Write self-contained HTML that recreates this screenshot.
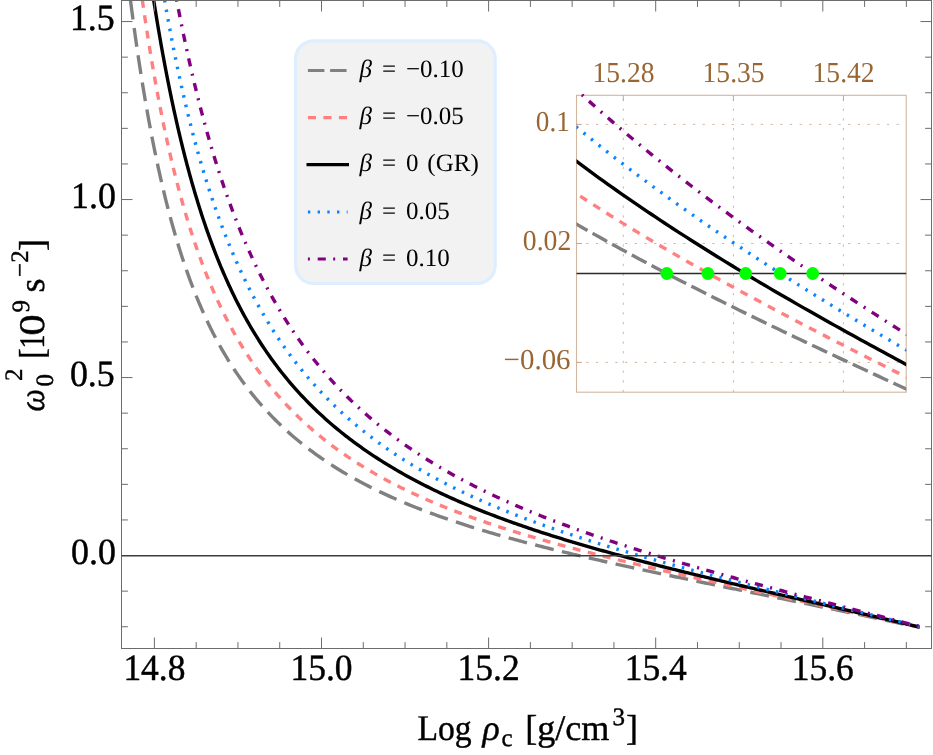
<!DOCTYPE html>
<html><head><meta charset="utf-8"><title>plot</title>
<style>html,body{margin:0;padding:0;background:#fff;}svg{display:block;will-change:transform;}text{font-family:"Liberation Serif",serif;text-rendering:geometricPrecision;}</style></head>
<body>
<svg width="933" height="755" viewBox="0 0 933 755">
<rect width="933" height="755" fill="#fff"/>
<defs>
<clipPath id="cm"><rect x="121.5" y="0.0" width="810.0" height="648.5"/></clipPath>
<clipPath id="ci"><rect x="576.5" y="93.6" width="329.7" height="298.6"/></clipPath>
</defs>
<g clip-path="url(#cm)" fill="none" stroke-width="3.40">
<path d="M125.16 -43.61 L125.43 -41.26 L125.70 -38.91 L125.97 -36.56 L126.25 -34.21 L126.53 -31.86 L126.80 -29.51 L127.08 -27.16 L127.37 -24.81 L127.65 -22.46 L127.93 -20.11 L128.22 -17.76 L128.51 -15.41 L128.80 -13.06 L129.09 -10.71 L129.38 -8.36 L129.68 -6.01 L129.97 -3.66 L130.27 -1.31 L130.57 1.03 L130.87 3.38 L131.18 5.73 L131.48 8.08 L131.79 10.42 L132.10 12.77 L132.41 15.12 L132.72 17.46 L133.04 19.81 L133.36 22.15 L133.68 24.50 L134.00 26.84 L134.32 29.19 L134.65 31.53 L134.97 33.88 L135.30 36.22 L135.63 38.57 L135.97 40.91 L136.30 43.25 L136.64 45.60 L136.98 47.94 L137.33 50.28 L137.67 52.62 L138.02 54.96 L138.37 57.30 L138.72 59.65 L139.07 61.99 L139.43 64.33 L139.79 66.67 L140.15 69.00 L140.52 71.34 L140.88 73.68 L141.25 76.02 L141.63 78.36 L142.00 80.70 L142.38 83.03 L142.76 85.37 L143.14 87.70 L143.53 90.04 L143.92 92.37 L144.31 94.71 L144.70 97.04 L145.10 99.38 L145.50 101.71 L145.90 104.04 L146.31 106.37 L146.72 108.71 L147.13 111.04 L147.55 113.37 L147.96 115.70 L148.39 118.03 L148.81 120.35 L149.24 122.68 L149.67 125.01 L150.11 127.34 L150.55 129.66 L150.99 131.99 L151.43 134.31 L151.88 136.64 L152.34 138.96 L152.79 141.28 L153.25 143.60 L153.72 145.93 L154.19 148.25 L154.66 150.57 L155.13 152.88 L155.61 155.20 L156.10 157.52 L156.59 159.83 L157.08 162.15 L157.58 164.46 L158.08 166.78 L158.58 169.09 L159.09 171.40 L159.61 173.71 L160.12 176.02 L160.65 178.33 L161.18 180.64 L161.71 182.94 L162.25 185.25 L162.79 187.55 L163.34 189.86 L163.89 192.16 L164.45 194.46 L165.01 196.76 L165.58 199.06 L166.15 201.35 L166.73 203.65 L167.31 205.94 L167.90 208.23 L168.50 210.53 L169.10 212.82 L169.70 215.10 L170.32 217.39 L170.94 219.67 L171.56 221.96 L172.19 224.24 L172.83 226.52 L173.47 228.80 L174.12 231.07 L174.78 233.35 L175.44 235.62 L176.11 237.89 L176.79 240.16 L177.47 242.42 L178.16 244.69 L178.86 246.95 L179.56 249.21 L180.28 251.47 L181.00 253.72 L181.72 255.98 L182.46 258.23 L183.20 260.47 L183.95 262.72 L184.71 264.96 L185.48 267.20 L186.25 269.44 L187.03 271.67 L187.83 273.90 L188.63 276.13 L189.44 278.35 L190.25 280.57 L191.08 282.79 L191.92 285.01 L192.76 287.22 L193.62 289.43 L194.48 291.63 L195.35 293.83 L196.24 296.03 L197.13 298.22 L198.03 300.41 L198.95 302.59 L199.87 304.77 L200.80 306.94 L201.75 309.11 L202.70 311.28 L203.67 313.44 L204.64 315.60 L205.63 317.75 L206.63 319.90 L207.64 322.04 L208.66 324.17 L209.69 326.30 L210.74 328.43 L211.80 330.54 L212.86 332.66 L213.94 334.76 L215.04 336.86 L216.14 338.96 L217.26 341.04 L218.39 343.12 L219.53 345.20 L220.68 347.26 L221.85 349.32 L223.03 351.38 L224.22 353.42 L225.43 355.46 L226.65 357.49 L227.88 359.51 L229.12 361.52 L230.38 363.53 L231.65 365.52 L232.94 367.51 L234.24 369.49 L235.55 371.46 L236.88 373.42 L238.22 375.37 L239.57 377.31 L240.94 379.25 L242.32 381.17 L243.71 383.08 L245.12 384.98 L246.54 386.88 L247.98 388.76 L249.42 390.63 L250.89 392.49 L252.36 394.34 L253.85 396.18 L255.36 398.01 L256.88 399.83 L258.41 401.63 L259.95 403.42 L261.51 405.21 L263.08 406.98 L264.66 408.74 L266.26 410.48 L267.87 412.22 L269.49 413.94 L271.13 415.65 L272.78 417.35 L274.44 419.03 L276.12 420.71 L277.80 422.37 L279.50 424.02 L281.21 425.65 L282.94 427.27 L284.67 428.88 L286.42 430.48 L288.18 432.07 L289.95 433.64 L291.73 435.19 L293.52 436.74 L295.33 438.27 L297.14 439.79 L298.97 441.30 L300.81 442.79 L302.65 444.27 L304.51 445.74 L306.38 447.19 L308.26 448.63 L310.14 450.06 L312.04 451.48 L313.95 452.88 L315.86 454.27 L317.79 455.65 L319.72 457.01 L321.66 458.36 L323.62 459.70 L325.58 461.03 L327.55 462.34 L329.52 463.65 L331.51 464.94 L333.50 466.21 L335.50 467.48 L337.51 468.73 L339.53 469.97 L341.55 471.20 L343.58 472.42 L345.62 473.62 L347.66 474.81 L349.71 476.00 L351.77 477.17 L353.83 478.33 L355.90 479.47 L357.98 480.61 L360.06 481.73 L362.15 482.85 L364.25 483.95 L366.35 485.04 L368.45 486.13 L370.56 487.20 L372.68 488.26 L374.80 489.31 L376.93 490.35 L379.06 491.38 L381.19 492.40 L383.33 493.41 L385.48 494.41 L387.63 495.40 L389.78 496.38 L391.94 497.36 L394.10 498.32 L396.27 499.27 L398.44 500.22 L400.61 501.15 L402.79 502.08 L404.97 503.00 L407.16 503.91 L409.35 504.81 L411.54 505.70 L413.74 506.58 L415.94 507.46 L418.14 508.33 L420.34 509.19 L422.55 510.04 L424.76 510.89 L426.98 511.72 L429.19 512.55 L431.41 513.38 L433.63 514.19 L435.86 515.00 L438.09 515.80 L440.32 516.60 L442.55 517.38 L444.78 518.16 L447.02 518.94 L449.26 519.71 L451.50 520.47 L453.74 521.22 L455.99 521.97 L458.24 522.72 L460.49 523.45 L462.74 524.18 L464.99 524.91 L467.25 525.63 L469.50 526.34 L471.76 527.05 L474.02 527.75 L476.28 528.45 L478.55 529.15 L480.81 529.83 L483.08 530.52 L485.35 531.19 L487.62 531.87 L489.89 532.53 L492.16 533.20 L494.43 533.86 L496.71 534.51 L498.98 535.16 L501.26 535.81 L503.54 536.45 L505.82 537.09 L508.10 537.72 L510.38 538.35 L512.66 538.97 L514.95 539.59 L517.23 540.21 L519.52 540.83 L521.81 541.44 L524.09 542.04 L526.38 542.65 L528.67 543.24 L530.96 543.84 L533.26 544.43 L535.55 545.02 L537.84 545.61 L540.14 546.19 L542.43 546.77 L544.73 547.35 L547.02 547.93 L549.32 548.50 L551.62 549.07 L553.92 549.63 L556.21 550.20 L558.51 550.76 L560.81 551.32 L563.12 551.87 L565.42 552.42 L567.72 552.97 L570.02 553.52 L572.32 554.07 L574.63 554.61 L576.93 555.16 L579.24 555.69 L581.54 556.23 L583.85 556.77 L586.15 557.30 L588.46 557.83 L590.77 558.36 L593.08 558.89 L595.38 559.42 L597.69 559.94 L600.00 560.46 L602.31 560.98 L604.62 561.50 L606.93 562.02 L609.24 562.54 L611.55 563.05 L613.86 563.56 L616.17 564.07 L618.48 564.58 L620.80 565.09 L623.11 565.60 L625.42 566.11 L627.73 566.61 L630.05 567.11 L632.36 567.62 L634.67 568.12 L636.99 568.62 L639.30 569.12 L641.61 569.61 L643.93 570.11 L646.24 570.61 L648.56 571.10 L650.87 571.59 L653.19 572.09 L655.50 572.58 L657.82 573.07 L660.13 573.56 L662.45 574.05 L664.77 574.54 L667.08 575.03 L669.40 575.51 L671.72 576.00 L674.03 576.49 L676.35 576.97 L678.67 577.46 L680.98 577.94 L683.30 578.42 L685.62 578.90 L687.94 579.39 L690.25 579.87 L692.57 580.35 L694.89 580.83 L697.21 581.31 L699.52 581.79 L701.84 582.27 L704.16 582.75 L706.48 583.23 L708.80 583.71 L711.12 584.18 L713.43 584.66 L715.75 585.14 L718.07 585.61 L720.39 586.09 L722.71 586.57 L725.03 587.04 L727.35 587.52 L729.66 588.00 L731.98 588.47 L734.30 588.95 L736.62 589.42 L738.94 589.90 L741.26 590.37 L743.58 590.85 L745.90 591.32 L748.22 591.80 L750.53 592.27 L752.85 592.75 L755.17 593.22 L757.49 593.70 L759.81 594.17 L762.13 594.64 L764.45 595.12 L766.77 595.59 L769.09 596.07 L771.41 596.54 L773.72 597.02 L776.04 597.49 L778.36 597.97 L780.68 598.44 L783.00 598.92 L785.32 599.39 L787.64 599.87 L789.96 600.34 L792.28 600.82 L794.59 601.29 L796.91 601.77 L799.23 602.25 L801.55 602.72 L803.87 603.20 L806.19 603.68 L808.51 604.15 L810.83 604.63 L813.14 605.11 L815.46 605.58 L817.78 606.06 L820.10 606.54 L822.42 607.02 L824.74 607.50 L827.05 607.98 L829.37 608.45 L831.69 608.93 L834.01 609.41 L836.33 609.89 L838.64 610.37 L840.96 610.85 L843.28 611.33 L845.60 611.82 L847.91 612.30 L850.23 612.78 L852.55 613.26 L854.87 613.74 L857.18 614.23 L859.50 614.71 L861.82 615.19 L864.14 615.68 L866.45 616.16 L868.77 616.65 L871.09 617.13 L873.40 617.62 L875.72 618.10 L878.04 618.59 L880.35 619.08 L882.67 619.57 L884.98 620.05 L887.30 620.54 L889.62 621.03 L891.93 621.52 L894.25 622.01 L896.57 622.50 L898.88 622.99 L901.20 623.48 L903.51 623.97 L905.83 624.46 L908.14 624.95 L910.46 625.45 L912.77 625.94 L915.09 626.43 L917.40 626.93 L919.72 627.42" stroke="#808080" stroke-dasharray="19 8.53" stroke-dashoffset="-17.08"/>
<path d="M125.16 -144.21 L125.41 -141.69 L125.67 -139.18 L125.93 -136.66 L126.19 -134.15 L126.45 -131.63 L126.71 -129.12 L126.97 -126.60 L127.24 -124.09 L127.50 -121.57 L127.77 -119.06 L128.04 -116.54 L128.31 -114.03 L128.58 -111.51 L128.85 -109.00 L129.13 -106.48 L129.40 -103.97 L129.68 -101.46 L129.96 -98.94 L130.24 -96.43 L130.52 -93.92 L130.81 -91.40 L131.09 -88.89 L131.38 -86.38 L131.67 -83.86 L131.96 -81.35 L132.25 -78.84 L132.54 -76.33 L132.84 -73.82 L133.13 -71.31 L133.43 -68.79 L133.73 -66.28 L134.03 -63.77 L134.34 -61.26 L134.64 -58.75 L134.95 -56.24 L135.26 -53.73 L135.57 -51.22 L135.88 -48.71 L136.20 -46.20 L136.51 -43.69 L136.83 -41.18 L137.15 -38.67 L137.47 -36.17 L137.80 -33.66 L138.13 -31.15 L138.45 -28.64 L138.78 -26.13 L139.12 -23.63 L139.45 -21.12 L139.79 -18.61 L140.13 -16.11 L140.47 -13.60 L140.81 -11.10 L141.15 -8.59 L141.50 -6.09 L141.85 -3.58 L142.20 -1.08 L142.56 1.43 L142.91 3.93 L143.27 6.43 L143.63 8.94 L144.00 11.44 L144.36 13.94 L144.73 16.45 L145.10 18.95 L145.48 21.45 L145.85 23.95 L146.23 26.45 L146.61 28.95 L147.00 31.45 L147.38 33.95 L147.77 36.45 L148.16 38.95 L148.56 41.44 L148.96 43.94 L149.36 46.44 L149.76 48.94 L150.17 51.43 L150.58 53.93 L150.99 56.42 L151.40 58.92 L151.82 61.41 L152.24 63.91 L152.67 66.40 L153.10 68.89 L153.53 71.38 L153.96 73.87 L154.40 76.37 L154.84 78.86 L155.28 81.35 L155.73 83.83 L156.18 86.32 L156.64 88.81 L157.09 91.30 L157.56 93.78 L158.02 96.27 L158.49 98.76 L158.96 101.24 L159.44 103.72 L159.92 106.21 L160.40 108.69 L160.89 111.17 L161.38 113.65 L161.88 116.13 L162.38 118.61 L162.89 121.09 L163.40 123.57 L163.91 126.04 L164.43 128.52 L164.95 130.99 L165.47 133.47 L166.01 135.94 L166.54 138.41 L167.08 140.88 L167.63 143.35 L168.18 145.82 L168.73 148.29 L169.29 150.75 L169.85 153.22 L170.42 155.68 L171.00 158.15 L171.58 160.61 L172.16 163.07 L172.75 165.53 L173.35 167.98 L173.95 170.44 L174.56 172.90 L175.17 175.35 L175.79 177.80 L176.41 180.25 L177.04 182.70 L177.68 185.15 L178.32 187.60 L178.97 190.04 L179.62 192.48 L180.29 194.92 L180.95 197.36 L181.63 199.80 L182.31 202.24 L183.00 204.67 L183.69 207.10 L184.39 209.53 L185.10 211.96 L185.81 214.39 L186.54 216.81 L187.27 219.23 L188.00 221.65 L188.75 224.07 L189.50 226.48 L190.26 228.89 L191.03 231.30 L191.80 233.71 L192.59 236.12 L193.38 238.52 L194.18 240.92 L194.99 243.31 L195.81 245.71 L196.63 248.10 L197.47 250.48 L198.31 252.87 L199.17 255.25 L200.03 257.63 L200.90 260.00 L201.78 262.37 L202.67 264.74 L203.57 267.10 L204.48 269.46 L205.40 271.82 L206.33 274.17 L207.27 276.52 L208.22 278.86 L209.18 281.20 L210.15 283.53 L211.13 285.86 L212.13 288.19 L213.13 290.51 L214.15 292.83 L215.17 295.14 L216.21 297.45 L217.26 299.75 L218.32 302.04 L219.39 304.33 L220.48 306.62 L221.57 308.90 L222.68 311.17 L223.80 313.44 L224.93 315.70 L226.08 317.95 L227.24 320.20 L228.41 322.44 L229.59 324.68 L230.79 326.91 L232.00 329.13 L233.22 331.34 L234.46 333.55 L235.71 335.75 L236.97 337.94 L238.24 340.12 L239.53 342.30 L240.84 344.46 L242.16 346.62 L243.49 348.77 L244.83 350.92 L246.19 353.05 L247.56 355.17 L248.95 357.29 L250.35 359.39 L251.77 361.49 L253.20 363.58 L254.64 365.65 L256.10 367.72 L257.57 369.78 L259.06 371.82 L260.56 373.86 L262.07 375.88 L263.60 377.90 L265.14 379.90 L266.70 381.89 L268.27 383.87 L269.86 385.84 L271.46 387.80 L273.08 389.75 L274.70 391.68 L276.35 393.60 L278.00 395.52 L279.68 397.41 L281.36 399.30 L283.06 401.17 L284.77 403.04 L286.50 404.88 L288.23 406.72 L289.99 408.54 L291.75 410.35 L293.53 412.15 L295.32 413.94 L297.13 415.71 L298.95 417.47 L300.78 419.21 L302.62 420.94 L304.48 422.66 L306.35 424.36 L308.23 426.06 L310.12 427.73 L312.02 429.40 L313.94 431.05 L315.87 432.69 L317.81 434.31 L319.76 435.92 L321.72 437.52 L323.69 439.10 L325.67 440.67 L327.67 442.22 L329.67 443.77 L331.69 445.29 L333.71 446.81 L335.75 448.31 L337.79 449.80 L339.85 451.27 L341.91 452.74 L343.98 454.18 L346.07 455.62 L348.16 457.04 L350.26 458.45 L352.37 459.84 L354.48 461.23 L356.61 462.60 L358.74 463.95 L360.89 465.30 L363.04 466.63 L365.19 467.95 L367.36 469.25 L369.53 470.55 L371.71 471.83 L373.90 473.10 L376.09 474.36 L378.30 475.60 L380.50 476.84 L382.72 478.06 L384.94 479.27 L387.17 480.47 L389.40 481.65 L391.64 482.83 L393.88 483.99 L396.13 485.15 L398.39 486.29 L400.65 487.42 L402.92 488.54 L405.19 489.65 L407.47 490.75 L409.75 491.84 L412.04 492.92 L414.33 493.99 L416.63 495.05 L418.93 496.10 L421.23 497.14 L423.54 498.17 L425.86 499.19 L428.18 500.20 L430.50 501.20 L432.82 502.19 L435.15 503.17 L437.49 504.15 L439.83 505.11 L442.17 506.07 L444.51 507.02 L446.86 507.96 L449.21 508.89 L451.56 509.82 L453.92 510.73 L456.28 511.64 L458.65 512.54 L461.01 513.43 L463.38 514.32 L465.75 515.20 L468.13 516.07 L470.50 516.93 L472.88 517.79 L475.27 518.64 L477.65 519.48 L480.04 520.31 L482.43 521.14 L484.82 521.96 L487.21 522.78 L489.61 523.59 L492.01 524.39 L494.41 525.19 L496.81 525.98 L499.21 526.77 L501.62 527.55 L504.03 528.32 L506.43 529.09 L508.85 529.86 L511.26 530.61 L513.67 531.37 L516.09 532.11 L518.51 532.86 L520.93 533.59 L523.35 534.33 L525.77 535.05 L528.19 535.78 L530.62 536.50 L533.04 537.21 L535.47 537.92 L537.90 538.62 L540.33 539.33 L542.76 540.02 L545.19 540.72 L547.63 541.40 L550.06 542.09 L552.50 542.77 L554.93 543.45 L557.37 544.12 L559.81 544.79 L562.25 545.46 L564.69 546.12 L567.13 546.78 L569.57 547.43 L572.02 548.09 L574.46 548.73 L576.91 549.38 L579.35 550.02 L581.80 550.66 L584.25 551.30 L586.69 551.94 L589.14 552.57 L591.59 553.20 L594.04 553.82 L596.49 554.45 L598.95 555.07 L601.40 555.68 L603.85 556.30 L606.31 556.91 L608.76 557.52 L611.21 558.13 L613.67 558.74 L616.13 559.34 L618.58 559.95 L621.04 560.55 L623.50 561.14 L625.95 561.74 L628.41 562.33 L630.87 562.93 L633.33 563.52 L635.79 564.10 L638.25 564.69 L640.71 565.28 L643.17 565.86 L645.63 566.44 L648.09 567.02 L650.56 567.60 L653.02 568.18 L655.48 568.75 L657.94 569.33 L660.41 569.90 L662.87 570.47 L665.33 571.04 L667.80 571.61 L670.26 572.17 L672.73 572.74 L675.19 573.31 L677.66 573.87 L680.12 574.43 L682.59 574.99 L685.06 575.55 L687.52 576.11 L689.99 576.67 L692.46 577.23 L694.92 577.79 L697.39 578.34 L699.86 578.90 L702.33 579.45 L704.79 580.00 L707.26 580.56 L709.73 581.11 L712.20 581.66 L714.67 582.21 L717.14 582.76 L719.60 583.31 L722.07 583.85 L724.54 584.40 L727.01 584.95 L729.48 585.49 L731.95 586.04 L734.42 586.58 L736.89 587.13 L739.36 587.67 L741.83 588.22 L744.30 588.76 L746.77 589.30 L749.24 589.85 L751.71 590.39 L754.18 590.93 L756.65 591.47 L759.12 592.01 L761.59 592.55 L764.06 593.09 L766.53 593.63 L769.00 594.17 L771.47 594.71 L773.95 595.25 L776.42 595.79 L778.89 596.33 L781.36 596.87 L783.83 597.41 L786.30 597.94 L788.77 598.48 L791.24 599.02 L793.71 599.56 L796.19 600.10 L798.66 600.63 L801.13 601.17 L803.60 601.71 L806.07 602.25 L808.54 602.79 L811.01 603.32 L813.48 603.86 L815.96 604.40 L818.43 604.94 L820.90 605.47 L823.37 606.01 L825.84 606.55 L828.31 607.09 L830.78 607.62 L833.25 608.16 L835.72 608.70 L838.20 609.24 L840.67 609.78 L843.14 610.32 L845.61 610.85 L848.08 611.39 L850.55 611.93 L853.02 612.47 L855.49 613.01 L857.96 613.55 L860.43 614.09 L862.91 614.63 L865.38 615.17 L867.85 615.71 L870.32 616.25 L872.79 616.79 L875.26 617.33 L877.73 617.87 L880.20 618.41 L882.67 618.95 L885.14 619.49 L887.61 620.04 L890.08 620.58 L892.55 621.12 L895.02 621.66 L897.49 622.21 L899.96 622.75 L902.43 623.29 L904.90 623.84 L907.37 624.38 L909.84 624.93 L912.31 625.47 L914.78 626.02 L917.25 626.56 L919.72 627.11" stroke="#ff8080" stroke-dasharray="8 7.53" stroke-dashoffset="-5.40"/>
<path d="M125.16 -234.36 L125.41 -231.70 L125.67 -229.04 L125.93 -226.38 L126.18 -223.72 L126.44 -221.06 L126.70 -218.40 L126.97 -215.74 L127.23 -213.08 L127.49 -210.42 L127.76 -207.76 L128.03 -205.10 L128.30 -202.44 L128.57 -199.78 L128.84 -197.12 L129.11 -194.46 L129.38 -191.80 L129.66 -189.14 L129.93 -186.48 L130.21 -183.83 L130.49 -181.17 L130.77 -178.51 L131.05 -175.85 L131.34 -173.19 L131.62 -170.53 L131.91 -167.88 L132.19 -165.22 L132.48 -162.56 L132.77 -159.90 L133.06 -157.25 L133.36 -154.59 L133.65 -151.93 L133.95 -149.28 L134.25 -146.62 L134.55 -143.96 L134.85 -141.31 L135.15 -138.65 L135.45 -136.00 L135.76 -133.34 L136.07 -130.68 L136.38 -128.03 L136.69 -125.37 L137.00 -122.72 L137.31 -120.06 L137.63 -117.41 L137.95 -114.76 L138.27 -112.10 L138.59 -109.45 L138.91 -106.79 L139.24 -104.14 L139.56 -101.49 L139.89 -98.84 L140.22 -96.18 L140.55 -93.53 L140.89 -90.88 L141.22 -88.23 L141.56 -85.57 L141.90 -82.92 L142.24 -80.27 L142.59 -77.62 L142.93 -74.97 L143.28 -72.32 L143.63 -69.67 L143.98 -67.02 L144.34 -64.37 L144.69 -61.72 L145.05 -59.07 L145.41 -56.42 L145.78 -53.77 L146.14 -51.13 L146.51 -48.48 L146.88 -45.83 L147.25 -43.18 L147.62 -40.54 L148.00 -37.89 L148.38 -35.24 L148.76 -32.60 L149.14 -29.95 L149.53 -27.31 L149.92 -24.66 L150.31 -22.02 L150.70 -19.37 L151.10 -16.73 L151.50 -14.09 L151.90 -11.45 L152.30 -8.80 L152.71 -6.16 L153.12 -3.52 L153.53 -0.88 L153.95 1.76 L154.36 4.40 L154.79 7.04 L155.21 9.68 L155.64 12.32 L156.06 14.96 L156.50 17.60 L156.93 20.24 L157.37 22.87 L157.81 25.51 L158.26 28.14 L158.71 30.78 L159.16 33.41 L159.61 36.05 L160.07 38.68 L160.53 41.32 L160.99 43.95 L161.46 46.58 L161.93 49.21 L162.41 51.84 L162.89 54.47 L163.37 57.10 L163.85 59.73 L164.34 62.36 L164.83 64.99 L165.33 67.61 L165.83 70.24 L166.34 72.86 L166.84 75.49 L167.36 78.11 L167.87 80.73 L168.39 83.36 L168.92 85.98 L169.45 88.60 L169.98 91.22 L170.52 93.84 L171.06 96.45 L171.60 99.07 L172.16 101.69 L172.71 104.30 L173.27 106.91 L173.83 109.53 L174.40 112.14 L174.98 114.75 L175.56 117.36 L176.14 119.97 L176.73 122.58 L177.32 125.18 L177.92 127.79 L178.53 130.39 L179.14 132.99 L179.75 135.60 L180.37 138.20 L181.00 140.79 L181.63 143.39 L182.27 145.99 L182.91 148.58 L183.56 151.18 L184.21 153.77 L184.87 156.36 L185.54 158.95 L186.21 161.53 L186.89 164.12 L187.58 166.70 L188.27 169.29 L188.97 171.87 L189.67 174.44 L190.38 177.02 L191.10 179.60 L191.83 182.17 L192.56 184.74 L193.30 187.31 L194.05 189.87 L194.80 192.44 L195.56 195.00 L196.33 197.56 L197.11 200.12 L197.90 202.67 L198.69 205.23 L199.49 207.78 L200.30 210.33 L201.12 212.87 L201.94 215.41 L202.77 217.95 L203.62 220.49 L204.47 223.02 L205.33 225.55 L206.20 228.08 L207.08 230.61 L207.96 233.13 L208.86 235.65 L209.77 238.16 L210.68 240.67 L211.61 243.18 L212.54 245.69 L213.49 248.19 L214.44 250.68 L215.41 253.18 L216.38 255.66 L217.37 258.15 L218.37 260.63 L219.38 263.10 L220.40 265.58 L221.43 268.04 L222.47 270.50 L223.52 272.96 L224.59 275.41 L225.66 277.86 L226.75 280.30 L227.85 282.74 L228.96 285.17 L230.09 287.59 L231.22 290.01 L232.37 292.43 L233.53 294.83 L234.71 297.24 L235.89 299.63 L237.09 302.02 L238.31 304.40 L239.53 306.78 L240.77 309.14 L242.03 311.51 L243.30 313.86 L244.58 316.21 L245.87 318.54 L247.18 320.88 L248.50 323.20 L249.84 325.51 L251.19 327.82 L252.56 330.12 L253.94 332.41 L255.33 334.69 L256.74 336.96 L258.16 339.22 L259.60 341.48 L261.05 343.72 L262.52 345.95 L264.01 348.18 L265.50 350.39 L267.02 352.60 L268.54 354.79 L270.09 356.97 L271.64 359.14 L273.22 361.31 L274.80 363.46 L276.41 365.60 L278.02 367.72 L279.66 369.84 L281.31 371.95 L282.97 374.04 L284.65 376.12 L286.34 378.19 L288.05 380.25 L289.77 382.29 L291.50 384.32 L293.26 386.34 L295.02 388.35 L296.80 390.34 L298.60 392.32 L300.41 394.29 L302.23 396.25 L304.07 398.19 L305.92 400.12 L307.78 402.03 L309.66 403.93 L311.55 405.82 L313.46 407.69 L315.38 409.56 L317.31 411.40 L319.26 413.24 L321.22 415.05 L323.19 416.86 L325.17 418.65 L327.17 420.43 L329.18 422.19 L331.20 423.94 L333.23 425.68 L335.27 427.40 L337.33 429.11 L339.40 430.81 L341.48 432.49 L343.57 434.15 L345.67 435.81 L347.78 437.44 L349.90 439.07 L352.03 440.68 L354.18 442.28 L356.33 443.86 L358.49 445.43 L360.67 446.99 L362.85 448.54 L365.04 450.07 L367.24 451.58 L369.45 453.09 L371.67 454.58 L373.90 456.05 L376.13 457.52 L378.38 458.97 L380.63 460.41 L382.89 461.83 L385.16 463.25 L387.44 464.65 L389.72 466.03 L392.02 467.41 L394.32 468.77 L396.62 470.12 L398.94 471.46 L401.26 472.79 L403.58 474.11 L405.92 475.41 L408.26 476.70 L410.61 477.98 L412.96 479.25 L415.32 480.51 L417.68 481.75 L420.05 482.99 L422.43 484.21 L424.81 485.42 L427.20 486.63 L429.59 487.82 L431.99 489.00 L434.39 490.17 L436.80 491.33 L439.22 492.48 L441.63 493.62 L444.06 494.75 L446.48 495.87 L448.91 496.98 L451.35 498.08 L453.79 499.17 L456.24 500.25 L458.68 501.33 L461.14 502.39 L463.59 503.44 L466.05 504.49 L468.52 505.53 L470.98 506.55 L473.46 507.57 L475.93 508.58 L478.41 509.59 L480.89 510.58 L483.37 511.57 L485.86 512.55 L488.35 513.52 L490.85 514.48 L493.34 515.44 L495.84 516.38 L498.34 517.33 L500.85 518.26 L503.36 519.18 L505.87 520.10 L508.38 521.01 L510.89 521.92 L513.41 522.82 L515.93 523.71 L518.45 524.59 L520.98 525.47 L523.51 526.34 L526.04 527.21 L528.57 528.07 L531.10 528.92 L533.64 529.77 L536.17 530.61 L538.71 531.45 L541.25 532.28 L543.79 533.10 L546.34 533.92 L548.89 534.74 L551.43 535.55 L553.98 536.35 L556.53 537.15 L559.09 537.94 L561.64 538.73 L564.20 539.51 L566.75 540.29 L569.31 541.07 L571.87 541.84 L574.43 542.60 L577.00 543.36 L579.56 544.12 L582.13 544.87 L584.69 545.62 L587.26 546.36 L589.83 547.10 L592.40 547.84 L594.97 548.57 L597.54 549.30 L600.11 550.02 L602.69 550.74 L605.26 551.46 L607.84 552.17 L610.42 552.88 L612.99 553.59 L615.57 554.30 L618.15 555.00 L620.73 555.69 L623.32 556.39 L625.90 557.08 L628.48 557.77 L631.06 558.45 L633.65 559.14 L636.23 559.82 L638.82 560.49 L641.41 561.17 L643.99 561.84 L646.58 562.51 L649.17 563.18 L651.76 563.84 L654.35 564.50 L656.94 565.16 L659.53 565.82 L662.12 566.48 L664.71 567.13 L667.31 567.78 L669.90 568.43 L672.49 569.08 L675.09 569.72 L677.68 570.37 L680.28 571.01 L682.87 571.65 L685.47 572.29 L688.06 572.92 L690.66 573.56 L693.26 574.19 L695.86 574.82 L698.45 575.45 L701.05 576.08 L703.65 576.71 L706.25 577.34 L708.85 577.96 L711.45 578.59 L714.05 579.21 L716.65 579.83 L719.25 580.45 L721.85 581.07 L724.45 581.69 L727.05 582.30 L729.65 582.92 L732.25 583.53 L734.85 584.15 L737.46 584.76 L740.06 585.37 L742.66 585.99 L745.26 586.60 L747.87 587.21 L750.47 587.82 L753.07 588.42 L755.67 589.03 L758.28 589.64 L760.88 590.25 L763.48 590.85 L766.09 591.46 L768.69 592.06 L771.30 592.67 L773.90 593.27 L776.50 593.88 L779.11 594.48 L781.71 595.08 L784.32 595.68 L786.92 596.29 L789.53 596.89 L792.13 597.49 L794.73 598.09 L797.34 598.69 L799.94 599.30 L802.55 599.90 L805.15 600.50 L807.76 601.10 L810.36 601.70 L812.97 602.30 L815.57 602.90 L818.18 603.50 L820.78 604.10 L823.39 604.70 L825.99 605.30 L828.60 605.91 L831.20 606.51 L833.80 607.11 L836.41 607.71 L839.01 608.31 L841.62 608.91 L844.22 609.51 L846.83 610.12 L849.43 610.72 L852.04 611.32 L854.64 611.92 L857.25 612.53 L859.85 613.13 L862.45 613.73 L865.06 614.34 L867.66 614.94 L870.27 615.55 L872.87 616.15 L875.47 616.76 L878.08 617.36 L880.68 617.97 L883.28 618.58 L885.89 619.18 L888.49 619.79 L891.09 620.40 L893.70 621.01 L896.30 621.62 L898.90 622.23 L901.50 622.84 L904.11 623.45 L906.71 624.06 L909.31 624.67 L911.91 625.28 L914.51 625.90 L917.12 626.51 L919.72 627.12" stroke="#000000"/>
<path d="M125.16 -323.52 L125.41 -320.71 L125.65 -317.90 L125.90 -315.10 L126.15 -312.29 L126.41 -309.48 L126.66 -306.68 L126.91 -303.87 L127.17 -301.07 L127.43 -298.26 L127.68 -295.46 L127.94 -292.65 L128.20 -289.85 L128.47 -287.04 L128.73 -284.24 L128.99 -281.43 L129.26 -278.63 L129.52 -275.82 L129.79 -273.02 L130.06 -270.21 L130.33 -267.41 L130.60 -264.60 L130.88 -261.80 L131.15 -259.00 L131.43 -256.19 L131.70 -253.39 L131.98 -250.58 L132.26 -247.78 L132.54 -244.98 L132.83 -242.18 L133.11 -239.37 L133.40 -236.57 L133.68 -233.77 L133.97 -230.96 L134.26 -228.16 L134.55 -225.36 L134.84 -222.56 L135.14 -219.76 L135.43 -216.95 L135.73 -214.15 L136.03 -211.35 L136.33 -208.55 L136.63 -205.75 L136.94 -202.95 L137.24 -200.15 L137.55 -197.35 L137.86 -194.55 L138.17 -191.75 L138.48 -188.95 L138.79 -186.15 L139.11 -183.35 L139.43 -180.55 L139.75 -177.75 L140.07 -174.95 L140.39 -172.15 L140.71 -169.35 L141.04 -166.55 L141.37 -163.76 L141.70 -160.96 L142.03 -158.16 L142.36 -155.36 L142.70 -152.56 L143.03 -149.77 L143.37 -146.97 L143.71 -144.17 L144.06 -141.38 L144.40 -138.58 L144.75 -135.79 L145.10 -132.99 L145.45 -130.20 L145.80 -127.40 L146.16 -124.61 L146.51 -121.81 L146.87 -119.02 L147.24 -116.22 L147.60 -113.43 L147.97 -110.64 L148.33 -107.84 L148.70 -105.05 L149.08 -102.26 L149.45 -99.46 L149.83 -96.67 L150.21 -93.88 L150.59 -91.09 L150.98 -88.30 L151.36 -85.51 L151.75 -82.72 L152.14 -79.93 L152.54 -77.14 L152.94 -74.35 L153.34 -71.56 L153.74 -68.77 L154.14 -65.98 L154.55 -63.20 L154.96 -60.41 L155.37 -57.62 L155.79 -54.84 L156.21 -52.05 L156.63 -49.26 L157.05 -46.48 L157.48 -43.69 L157.91 -40.91 L158.34 -38.13 L158.78 -35.34 L159.22 -32.56 L159.66 -29.78 L160.10 -27.00 L160.55 -24.21 L161.00 -21.43 L161.46 -18.65 L161.92 -15.87 L162.38 -13.09 L162.84 -10.32 L163.31 -7.54 L163.78 -4.76 L164.25 -1.98 L164.73 0.79 L165.21 3.57 L165.70 6.35 L166.18 9.12 L166.68 11.89 L167.17 14.67 L167.67 17.44 L168.17 20.21 L168.68 22.98 L169.19 25.75 L169.71 28.52 L170.23 31.29 L170.75 34.06 L171.28 36.83 L171.81 39.60 L172.34 42.36 L172.88 45.13 L173.42 47.89 L173.97 50.66 L174.52 53.42 L175.08 56.18 L175.64 58.94 L176.21 61.70 L176.78 64.46 L177.35 67.22 L177.93 69.97 L178.52 72.73 L179.11 75.49 L179.70 78.24 L180.30 80.99 L180.90 83.74 L181.51 86.49 L182.13 89.24 L182.75 91.99 L183.37 94.74 L184.00 97.49 L184.64 100.23 L185.28 102.97 L185.93 105.72 L186.58 108.46 L187.24 111.19 L187.90 113.93 L188.57 116.67 L189.25 119.40 L189.93 122.14 L190.62 124.87 L191.31 127.60 L192.01 130.33 L192.72 133.06 L193.43 135.78 L194.15 138.50 L194.88 141.23 L195.61 143.95 L196.36 146.67 L197.10 149.38 L197.86 152.10 L198.62 154.81 L199.39 157.52 L200.16 160.23 L200.95 162.93 L201.74 165.64 L202.54 168.34 L203.34 171.04 L204.16 173.74 L204.98 176.43 L205.81 179.12 L206.65 181.81 L207.49 184.50 L208.35 187.18 L209.21 189.87 L210.08 192.54 L210.96 195.22 L211.85 197.89 L212.75 200.56 L213.66 203.23 L214.57 205.90 L215.50 208.56 L216.43 211.21 L217.38 213.87 L218.33 216.52 L219.29 219.17 L220.27 221.81 L221.25 224.45 L222.25 227.09 L223.25 229.72 L224.26 232.35 L225.29 234.97 L226.32 237.59 L227.37 240.21 L228.43 242.82 L229.49 245.43 L230.57 248.03 L231.66 250.63 L232.76 253.22 L233.88 255.81 L235.00 258.39 L236.14 260.97 L237.29 263.54 L238.45 266.11 L239.62 268.67 L240.80 271.23 L242.00 273.78 L243.21 276.32 L244.43 278.86 L245.67 281.39 L246.92 283.92 L248.18 286.44 L249.45 288.95 L250.74 291.46 L252.04 293.96 L253.35 296.45 L254.68 298.93 L256.02 301.41 L257.37 303.88 L258.74 306.35 L260.12 308.80 L261.52 311.25 L262.93 313.69 L264.36 316.12 L265.79 318.54 L267.25 320.95 L268.72 323.36 L270.20 325.75 L271.69 328.14 L273.21 330.52 L274.73 332.88 L276.27 335.24 L277.83 337.59 L279.40 339.93 L280.99 342.26 L282.59 344.58 L284.20 346.88 L285.83 349.18 L287.48 351.47 L289.14 353.74 L290.82 356.01 L292.51 358.26 L294.21 360.50 L295.93 362.73 L297.67 364.95 L299.42 367.16 L301.19 369.36 L302.97 371.54 L304.77 373.71 L306.58 375.87 L308.40 378.01 L310.24 380.14 L312.10 382.26 L313.97 384.37 L315.86 386.46 L317.76 388.54 L319.67 390.61 L321.60 392.66 L323.54 394.70 L325.50 396.73 L327.47 398.74 L329.46 400.74 L331.46 402.73 L333.47 404.70 L335.50 406.65 L337.54 408.60 L339.59 410.53 L341.66 412.44 L343.74 414.34 L345.83 416.22 L347.94 418.09 L350.06 419.95 L352.19 421.79 L354.33 423.62 L356.49 425.43 L358.66 427.23 L360.84 429.01 L363.03 430.78 L365.24 432.54 L367.45 434.28 L369.68 436.00 L371.92 437.71 L374.17 439.41 L376.43 441.09 L378.70 442.76 L380.98 444.41 L383.28 446.05 L385.58 447.67 L387.89 449.28 L390.21 450.87 L392.54 452.46 L394.89 454.02 L397.24 455.58 L399.60 457.11 L401.96 458.64 L404.34 460.15 L406.73 461.65 L409.12 463.13 L411.53 464.60 L413.94 466.06 L416.36 467.50 L418.78 468.94 L421.22 470.35 L423.66 471.76 L426.11 473.15 L428.57 474.53 L431.03 475.90 L433.50 477.25 L435.98 478.59 L438.46 479.92 L440.95 481.24 L443.45 482.54 L445.95 483.84 L448.46 485.12 L450.97 486.39 L453.50 487.65 L456.02 488.90 L458.55 490.13 L461.09 491.36 L463.63 492.57 L466.18 493.78 L468.73 494.97 L471.29 496.15 L473.85 497.33 L476.42 498.49 L478.99 499.64 L481.56 500.78 L484.14 501.91 L486.72 503.04 L489.31 504.15 L491.90 505.26 L494.50 506.35 L497.10 507.44 L499.70 508.51 L502.31 509.58 L504.92 510.64 L507.53 511.69 L510.15 512.74 L512.77 513.77 L515.39 514.80 L518.02 515.82 L520.65 516.83 L523.28 517.83 L525.92 518.83 L528.56 519.82 L531.20 520.80 L533.84 521.77 L536.49 522.74 L539.14 523.70 L541.79 524.65 L544.44 525.60 L547.10 526.54 L549.76 527.47 L552.42 528.40 L555.08 529.32 L557.74 530.23 L560.41 531.14 L563.08 532.05 L565.75 532.94 L568.42 533.83 L571.10 534.72 L573.77 535.60 L576.45 536.48 L579.13 537.35 L581.81 538.21 L584.49 539.07 L587.18 539.93 L589.86 540.78 L592.55 541.62 L595.24 542.46 L597.93 543.30 L600.62 544.13 L603.32 544.96 L606.01 545.78 L608.71 546.60 L611.40 547.41 L614.10 548.22 L616.80 549.03 L619.50 549.83 L622.20 550.63 L624.90 551.43 L627.61 552.22 L630.31 553.01 L633.02 553.79 L635.73 554.58 L638.43 555.35 L641.14 556.13 L643.85 556.90 L646.56 557.67 L649.27 558.43 L651.99 559.20 L654.70 559.96 L657.41 560.71 L660.13 561.47 L662.84 562.22 L665.56 562.97 L668.27 563.71 L670.99 564.46 L673.71 565.20 L676.43 565.94 L679.15 566.67 L681.87 567.41 L684.59 568.14 L687.31 568.87 L690.03 569.59 L692.75 570.32 L695.48 571.04 L698.20 571.76 L700.93 572.48 L703.65 573.20 L706.37 573.91 L709.10 574.63 L711.83 575.34 L714.55 576.05 L717.28 576.76 L720.01 577.46 L722.73 578.17 L725.46 578.87 L728.19 579.57 L730.92 580.27 L733.65 580.97 L736.38 581.67 L739.11 582.36 L741.84 583.06 L744.57 583.75 L747.30 584.44 L750.03 585.13 L752.76 585.82 L755.50 586.51 L758.23 587.20 L760.96 587.89 L763.69 588.57 L766.43 589.25 L769.16 589.94 L771.89 590.62 L774.63 591.30 L777.36 591.98 L780.09 592.66 L782.83 593.34 L785.56 594.01 L788.30 594.69 L791.03 595.37 L793.77 596.04 L796.50 596.72 L799.24 597.39 L801.98 598.06 L804.71 598.73 L807.45 599.40 L810.18 600.08 L812.92 600.75 L815.66 601.41 L818.39 602.08 L821.13 602.75 L823.87 603.42 L826.61 604.09 L829.34 604.75 L832.08 605.42 L834.82 606.08 L837.56 606.75 L840.29 607.41 L843.03 608.08 L845.77 608.74 L848.51 609.41 L851.25 610.07 L853.98 610.73 L856.72 611.39 L859.46 612.06 L862.20 612.72 L864.94 613.38 L867.68 614.04 L870.41 614.70 L873.15 615.36 L875.89 616.02 L878.63 616.68 L881.37 617.34 L884.11 618.00 L886.85 618.66 L889.59 619.32 L892.33 619.98 L895.06 620.64 L897.80 621.30 L900.54 621.96 L903.28 622.62 L906.02 623.28 L908.76 623.93 L911.50 624.59 L914.24 625.25 L916.98 625.91 L919.72 626.57" stroke="#0a84ff" stroke-dasharray="2.5 7.205" stroke-dashoffset="-5.77"/>
<path d="M125.16 -403.43 L125.42 -400.50 L125.68 -397.57 L125.94 -394.63 L126.21 -391.70 L126.47 -388.77 L126.74 -385.84 L127.00 -382.90 L127.27 -379.97 L127.54 -377.04 L127.81 -374.11 L128.08 -371.18 L128.36 -368.24 L128.63 -365.31 L128.90 -362.38 L129.18 -359.45 L129.46 -356.52 L129.74 -353.59 L130.02 -350.66 L130.30 -347.73 L130.58 -344.79 L130.86 -341.86 L131.15 -338.93 L131.43 -336.00 L131.72 -333.07 L132.01 -330.14 L132.30 -327.21 L132.59 -324.28 L132.88 -321.35 L133.18 -318.42 L133.47 -315.49 L133.77 -312.56 L134.07 -309.63 L134.36 -306.70 L134.66 -303.78 L134.97 -300.85 L135.27 -297.92 L135.57 -294.99 L135.88 -292.06 L136.19 -289.13 L136.50 -286.20 L136.81 -283.28 L137.12 -280.35 L137.43 -277.42 L137.75 -274.49 L138.06 -271.57 L138.38 -268.64 L138.70 -265.71 L139.02 -262.78 L139.34 -259.86 L139.67 -256.93 L139.99 -254.00 L140.32 -251.08 L140.65 -248.15 L140.98 -245.23 L141.31 -242.30 L141.65 -239.38 L141.98 -236.45 L142.32 -233.52 L142.66 -230.60 L143.00 -227.68 L143.34 -224.75 L143.69 -221.83 L144.03 -218.90 L144.38 -215.98 L144.73 -213.05 L145.08 -210.13 L145.43 -207.21 L145.79 -204.29 L146.14 -201.36 L146.50 -198.44 L146.86 -195.52 L147.23 -192.60 L147.59 -189.67 L147.96 -186.75 L148.33 -183.83 L148.70 -180.91 L149.07 -177.99 L149.44 -175.07 L149.82 -172.15 L150.20 -169.23 L150.58 -166.31 L150.96 -163.39 L151.35 -160.47 L151.73 -157.55 L152.12 -154.63 L152.52 -151.71 L152.91 -148.80 L153.30 -145.88 L153.70 -142.96 L154.10 -140.04 L154.51 -137.13 L154.91 -134.21 L155.32 -131.29 L155.73 -128.38 L156.14 -125.46 L156.56 -122.55 L156.97 -119.63 L157.39 -116.72 L157.82 -113.81 L158.24 -110.89 L158.67 -107.98 L159.10 -105.07 L159.53 -102.15 L159.97 -99.24 L160.40 -96.33 L160.84 -93.42 L161.29 -90.51 L161.73 -87.60 L162.18 -84.69 L162.64 -81.78 L163.09 -78.87 L163.55 -75.96 L164.01 -73.05 L164.47 -70.14 L164.94 -67.24 L165.41 -64.33 L165.88 -61.42 L166.36 -58.52 L166.83 -55.61 L167.32 -52.71 L167.80 -49.80 L168.29 -46.90 L168.78 -44.00 L169.28 -41.09 L169.77 -38.19 L170.28 -35.29 L170.78 -32.39 L171.29 -29.49 L171.80 -26.59 L172.32 -23.69 L172.84 -20.79 L173.36 -17.89 L173.88 -15.00 L174.41 -12.10 L174.95 -9.21 L175.49 -6.31 L176.03 -3.42 L176.57 -0.52 L177.12 2.37 L177.68 5.26 L178.23 8.15 L178.79 11.04 L179.36 13.93 L179.93 16.82 L180.50 19.71 L181.08 22.60 L181.66 25.48 L182.25 28.37 L182.84 31.25 L183.44 34.14 L184.04 37.02 L184.64 39.90 L185.25 42.78 L185.87 45.66 L186.49 48.54 L187.11 51.42 L187.74 54.29 L188.38 57.17 L189.02 60.04 L189.66 62.92 L190.31 65.79 L190.96 68.66 L191.62 71.53 L192.29 74.40 L192.96 77.26 L193.64 80.13 L194.32 82.99 L195.01 85.86 L195.70 88.72 L196.40 91.58 L197.10 94.44 L197.81 97.29 L198.53 100.15 L199.25 103.00 L199.98 105.86 L200.72 108.71 L201.46 111.56 L202.21 114.40 L202.97 117.25 L203.73 120.10 L204.50 122.94 L205.27 125.78 L206.05 128.62 L206.84 131.45 L207.64 134.29 L208.44 137.12 L209.25 139.95 L210.07 142.78 L210.90 145.61 L211.73 148.43 L212.57 151.25 L213.42 154.07 L214.28 156.89 L215.14 159.70 L216.01 162.52 L216.90 165.32 L217.79 168.13 L218.68 170.94 L219.59 173.74 L220.50 176.54 L221.43 179.33 L222.36 182.12 L223.30 184.91 L224.25 187.70 L225.21 190.48 L226.18 193.26 L227.16 196.04 L228.15 198.82 L229.15 201.59 L230.16 204.35 L231.18 207.11 L232.20 209.87 L233.24 212.63 L234.29 215.38 L235.35 218.13 L236.42 220.87 L237.50 223.61 L238.60 226.34 L239.70 229.07 L240.81 231.80 L241.94 234.52 L243.08 237.24 L244.22 239.95 L245.39 242.65 L246.56 245.35 L247.74 248.05 L248.94 250.74 L250.15 253.42 L251.37 256.10 L252.60 258.78 L253.85 261.44 L255.11 264.11 L256.38 266.76 L257.67 269.41 L258.96 272.05 L260.28 274.69 L261.60 277.32 L262.94 279.94 L264.29 282.56 L265.66 285.16 L267.04 287.76 L268.44 290.36 L269.84 292.94 L271.27 295.52 L272.71 298.09 L274.16 300.65 L275.63 303.20 L277.11 305.75 L278.60 308.29 L280.11 310.81 L281.64 313.33 L283.18 315.84 L284.74 318.34 L286.31 320.83 L287.90 323.31 L289.50 325.78 L291.12 328.24 L292.75 330.69 L294.40 333.13 L296.07 335.55 L297.75 337.97 L299.45 340.38 L301.16 342.77 L302.89 345.16 L304.63 347.53 L306.39 349.89 L308.16 352.24 L309.96 354.58 L311.76 356.90 L313.59 359.21 L315.42 361.51 L317.28 363.80 L319.15 366.08 L321.03 368.34 L322.94 370.59 L324.85 372.82 L326.78 375.04 L328.73 377.25 L330.70 379.44 L332.67 381.63 L334.67 383.79 L336.68 385.94 L338.70 388.08 L340.74 390.21 L342.79 392.32 L344.86 394.41 L346.94 396.49 L349.04 398.56 L351.15 400.61 L353.28 402.65 L355.42 404.67 L357.57 406.68 L359.74 408.67 L361.92 410.65 L364.12 412.61 L366.32 414.56 L368.55 416.49 L370.78 418.41 L373.03 420.31 L375.29 422.20 L377.56 424.07 L379.84 425.93 L382.14 427.77 L384.45 429.60 L386.77 431.41 L389.10 433.21 L391.45 434.99 L393.80 436.76 L396.17 438.51 L398.54 440.25 L400.93 441.98 L403.33 443.68 L405.74 445.38 L408.16 447.06 L410.59 448.72 L413.02 450.37 L415.47 452.01 L417.93 453.63 L420.40 455.24 L422.87 456.83 L425.36 458.41 L427.85 459.98 L430.35 461.53 L432.86 463.07 L435.38 464.59 L437.91 466.10 L440.45 467.60 L442.99 469.08 L445.54 470.56 L448.10 472.02 L450.66 473.46 L453.23 474.89 L455.81 476.32 L458.40 477.72 L460.99 479.12 L463.59 480.50 L466.19 481.88 L468.81 483.24 L471.42 484.58 L474.05 485.92 L476.68 487.25 L479.31 488.56 L481.95 489.86 L484.60 491.15 L487.25 492.43 L489.91 493.70 L492.57 494.96 L495.23 496.21 L497.91 497.45 L500.58 498.68 L503.26 499.90 L505.95 501.11 L508.64 502.30 L511.33 503.49 L514.03 504.67 L516.73 505.84 L519.44 507.00 L522.15 508.16 L524.86 509.30 L527.58 510.43 L530.30 511.56 L533.02 512.67 L535.75 513.78 L538.48 514.88 L541.22 515.97 L543.95 517.06 L546.69 518.13 L549.44 519.20 L552.18 520.26 L554.93 521.32 L557.69 522.36 L560.44 523.40 L563.20 524.43 L565.96 525.46 L568.72 526.47 L571.49 527.49 L574.26 528.49 L577.03 529.49 L579.80 530.48 L582.57 531.46 L585.35 532.44 L588.13 533.41 L590.91 534.38 L593.70 535.34 L596.48 536.30 L599.27 537.25 L602.06 538.19 L604.85 539.13 L607.64 540.06 L610.43 540.99 L613.23 541.91 L616.03 542.83 L618.83 543.75 L621.63 544.65 L624.43 545.56 L627.23 546.46 L630.04 547.35 L632.85 548.24 L635.65 549.13 L638.46 550.01 L641.27 550.88 L644.09 551.76 L646.90 552.63 L649.71 553.49 L652.53 554.35 L655.35 555.21 L658.16 556.06 L660.98 556.91 L663.80 557.76 L666.63 558.60 L669.45 559.44 L672.27 560.28 L675.09 561.11 L677.92 561.95 L680.75 562.77 L683.57 563.60 L686.40 564.42 L689.23 565.24 L692.06 566.05 L694.89 566.86 L697.72 567.67 L700.55 568.48 L703.38 569.29 L706.21 570.09 L709.05 570.89 L711.88 571.69 L714.72 572.48 L717.55 573.28 L720.39 574.07 L723.23 574.86 L726.06 575.64 L728.90 576.43 L731.74 577.21 L734.58 577.99 L737.42 578.77 L740.26 579.55 L743.10 580.32 L745.94 581.09 L748.78 581.87 L751.62 582.64 L754.47 583.41 L757.31 584.17 L760.15 584.94 L763.00 585.70 L765.84 586.46 L768.68 587.23 L771.53 587.99 L774.37 588.74 L777.22 589.50 L780.06 590.26 L782.91 591.01 L785.76 591.77 L788.60 592.52 L791.45 593.27 L794.30 594.02 L797.15 594.77 L799.99 595.52 L802.84 596.27 L805.69 597.02 L808.54 597.76 L811.39 598.51 L814.23 599.25 L817.08 600.00 L819.93 600.74 L822.78 601.48 L825.63 602.22 L828.48 602.96 L831.33 603.71 L834.18 604.45 L837.03 605.18 L839.88 605.92 L842.73 606.66 L845.58 607.40 L848.43 608.14 L851.28 608.87 L854.13 609.61 L856.98 610.35 L859.84 611.08 L862.69 611.82 L865.54 612.55 L868.39 613.29 L871.24 614.02 L874.09 614.76 L876.94 615.49 L879.79 616.23 L882.65 616.96 L885.50 617.69 L888.35 618.43 L891.20 619.16 L894.05 619.89 L896.90 620.63 L899.76 621.36 L902.61 622.09 L905.46 622.83 L908.31 623.56 L911.16 624.29 L914.01 625.03 L916.87 625.76 L919.72 626.49" stroke="#800080" stroke-dasharray="8.2 7.5 2 7.525" stroke-dashoffset="-12.48"/>
</g>
<g stroke="#6c6c6c" stroke-width="1" fill="none">
<rect x="121.5" y="0.5" width="810.0" height="648.0"/>
<path d="M154.40 648.5v-11.0 M154.40 0.5v11.0"/>
<path d="M196.18 648.5v-6.4 M196.18 0.5v6.4"/>
<path d="M237.95 648.5v-6.4 M237.95 0.5v6.4"/>
<path d="M279.73 648.5v-6.4 M279.73 0.5v6.4"/>
<path d="M321.50 648.5v-11.0 M321.50 0.5v11.0"/>
<path d="M363.28 648.5v-6.4 M363.28 0.5v6.4"/>
<path d="M405.05 648.5v-6.4 M405.05 0.5v6.4"/>
<path d="M446.83 648.5v-6.4 M446.83 0.5v6.4"/>
<path d="M488.60 648.5v-11.0 M488.60 0.5v11.0"/>
<path d="M530.38 648.5v-6.4 M530.38 0.5v6.4"/>
<path d="M572.15 648.5v-6.4 M572.15 0.5v6.4"/>
<path d="M613.93 648.5v-6.4 M613.93 0.5v6.4"/>
<path d="M655.70 648.5v-11.0 M655.70 0.5v11.0"/>
<path d="M697.48 648.5v-6.4 M697.48 0.5v6.4"/>
<path d="M739.25 648.5v-6.4 M739.25 0.5v6.4"/>
<path d="M781.03 648.5v-6.4 M781.03 0.5v6.4"/>
<path d="M822.80 648.5v-11.0 M822.80 0.5v11.0"/>
<path d="M864.58 648.5v-6.4 M864.58 0.5v6.4"/>
<path d="M906.35 648.5v-6.4 M906.35 0.5v6.4"/>
<path d="M121.5 626.75h6.4 M931.5 626.75h-6.4"/>
<path d="M121.5 591.15h6.4 M931.5 591.15h-6.4"/>
<path d="M121.5 555.55h11.0 M931.5 555.55h-11.0"/>
<path d="M121.5 519.95h6.4 M931.5 519.95h-6.4"/>
<path d="M121.5 484.35h6.4 M931.5 484.35h-6.4"/>
<path d="M121.5 448.75h6.4 M931.5 448.75h-6.4"/>
<path d="M121.5 413.15h6.4 M931.5 413.15h-6.4"/>
<path d="M121.5 377.55h11.0 M931.5 377.55h-11.0"/>
<path d="M121.5 341.95h6.4 M931.5 341.95h-6.4"/>
<path d="M121.5 306.35h6.4 M931.5 306.35h-6.4"/>
<path d="M121.5 270.75h6.4 M931.5 270.75h-6.4"/>
<path d="M121.5 235.15h6.4 M931.5 235.15h-6.4"/>
<path d="M121.5 199.55h11.0 M931.5 199.55h-11.0"/>
<path d="M121.5 163.95h6.4 M931.5 163.95h-6.4"/>
<path d="M121.5 128.35h6.4 M931.5 128.35h-6.4"/>
<path d="M121.5 92.75h6.4 M931.5 92.75h-6.4"/>
<path d="M121.5 57.15h6.4 M931.5 57.15h-6.4"/>
<path d="M121.5 21.55h11.0 M931.5 21.55h-11.0"/>
</g>
<line x1="121.5" x2="931.5" y1="555.65" y2="555.65" stroke="#3c3c3c" stroke-width="1.5"/>
<g font-family="Liberation Serif, serif" font-size="37" fill="#000" stroke="#000" stroke-width="0.45">
<text x="154.4" y="679.8" text-anchor="middle" textLength="62" lengthAdjust="spacingAndGlyphs">14.8</text>
<text x="321.5" y="679.8" text-anchor="middle" textLength="62" lengthAdjust="spacingAndGlyphs">15.0</text>
<text x="488.6" y="679.8" text-anchor="middle" textLength="62" lengthAdjust="spacingAndGlyphs">15.2</text>
<text x="655.7" y="679.8" text-anchor="middle" textLength="62" lengthAdjust="spacingAndGlyphs">15.4</text>
<text x="822.8" y="679.8" text-anchor="middle" textLength="62" lengthAdjust="spacingAndGlyphs">15.6</text>
<text x="114.7" y="30.1" text-anchor="end" textLength="44.8" lengthAdjust="spacingAndGlyphs">1.5</text>
<text x="115.9" y="208.1" text-anchor="end" textLength="44.8" lengthAdjust="spacingAndGlyphs">1.0</text>
<text x="114.7" y="386.1" text-anchor="end" textLength="44.8" lengthAdjust="spacingAndGlyphs">0.5</text>
<text x="115.9" y="564.1" text-anchor="end" textLength="44.8" lengthAdjust="spacingAndGlyphs">0.0</text>
</g>
<g font-family="Liberation Serif, serif" fill="#000" stroke="#000" stroke-width="0.4">
<text x="417.4" y="740" font-size="36" textLength="54.3" lengthAdjust="spacingAndGlyphs">Log</text>
<text x="482.5" y="740" font-size="36" font-style="italic">&#961;</text>
<text x="501.5" y="745.5" font-size="25">c</text>
<text x="525.2" y="740" font-size="36" textLength="84.3" lengthAdjust="spacingAndGlyphs">[g/cm</text>
<text x="612.5" y="724.6" font-size="25">3</text>
<text x="626" y="740" font-size="36">]</text>
</g>
<g font-family="Liberation Serif, serif" fill="#000" stroke="#000" stroke-width="0.4" transform="translate(43.5 411.4) rotate(-90)">
<text x="0" y="0" font-size="36" font-style="italic" textLength="22.5" lengthAdjust="spacingAndGlyphs">&#969;</text>
<text x="25" y="9" font-size="25">0</text>
<text x="30.5" y="-22" font-size="25">2</text>
<text x="52.6" y="0" font-size="36" textLength="10.4" lengthAdjust="spacingAndGlyphs">[</text>
<text x="62.8" y="0" font-size="36" textLength="14" lengthAdjust="spacingAndGlyphs">1</text>
<text x="75.6" y="0" font-size="36" textLength="21.5" lengthAdjust="spacingAndGlyphs">0</text>
<text x="99" y="-15" font-size="25">9</text>
<text x="119" y="0" font-size="36">s</text>
<text x="134.5" y="-15.5" font-size="25">&#8722;2</text>
<text x="160.5" y="0" font-size="36">]</text>
</g>
<rect x="295.55" y="40.8" width="199.65" height="242.6" rx="18" ry="18" fill="#f2f2f2" stroke="#deeeff" stroke-width="3.2"/>
<line x1="307.9" x2="347.6" y1="70.5" y2="70.5" stroke="#808080" stroke-width="3.2" stroke-dasharray="16.5 5.7"/>
<text x="359.5" y="77.3" font-family="Liberation Serif, serif" font-size="25" font-style="italic" fill="#000">&#946;</text>
<text x="382" y="77.3" font-family="Liberation Serif, serif" font-size="25" fill="#000">=</text>
<text x="406" y="77.3" font-family="Liberation Serif, serif" font-size="25" fill="#000">&#8722;0.10</text>
<line x1="307.9" x2="347.6" y1="117.6" y2="117.6" stroke="#ff8080" stroke-width="3.2" stroke-dasharray="8.1 7.4"/>
<text x="359.5" y="124.4" font-family="Liberation Serif, serif" font-size="25" font-style="italic" fill="#000">&#946;</text>
<text x="382" y="124.4" font-family="Liberation Serif, serif" font-size="25" fill="#000">=</text>
<text x="406" y="124.4" font-family="Liberation Serif, serif" font-size="25" fill="#000">&#8722;0.05</text>
<line x1="306.5" x2="349.0" y1="164.6" y2="164.6" stroke="#000000" stroke-width="3.2"/>
<text x="359.5" y="171.4" font-family="Liberation Serif, serif" font-size="25" font-style="italic" fill="#000">&#946;</text>
<text x="382" y="171.4" font-family="Liberation Serif, serif" font-size="25" fill="#000">=</text>
<text x="406" y="171.4" font-family="Liberation Serif, serif" font-size="25" fill="#000">0</text>
<text x="427.3" y="171.4" font-family="Liberation Serif, serif" font-size="25" fill="#000" textLength="51.5" lengthAdjust="spacingAndGlyphs">(GR)</text>
<line x1="307.9" x2="347.6" y1="212.0" y2="212.0" stroke="#0a84ff" stroke-width="3.2" stroke-dasharray="2.4 7.3"/>
<text x="359.5" y="218.8" font-family="Liberation Serif, serif" font-size="25" font-style="italic" fill="#000">&#946;</text>
<text x="382" y="218.8" font-family="Liberation Serif, serif" font-size="25" fill="#000">=</text>
<text x="406" y="218.8" font-family="Liberation Serif, serif" font-size="25" fill="#000">0.05</text>
<line x1="307.9" x2="347.6" y1="259.0" y2="259.0" stroke="#800080" stroke-width="3.2" stroke-dasharray="2 7.8 8.1 7.4"/>
<text x="359.5" y="265.8" font-family="Liberation Serif, serif" font-size="25" font-style="italic" fill="#000">&#946;</text>
<text x="382" y="265.8" font-family="Liberation Serif, serif" font-size="25" fill="#000">=</text>
<text x="406" y="265.8" font-family="Liberation Serif, serif" font-size="25" fill="#000">0.10</text>
<rect x="576.5" y="95.3" width="329.7" height="296.9" fill="#fff" stroke="#d2b59e" stroke-width="1.1"/>
<g stroke="#ccb095" stroke-width="0.9" stroke-dasharray="2.3 7.4" fill="none">
<line x1="623.3" x2="623.3" y1="392.2" y2="95.3"/>
<line x1="733.4" x2="733.4" y1="392.2" y2="95.3"/>
<line x1="843.4" x2="843.4" y1="392.2" y2="95.3"/>
<line x1="576.5" x2="906.2" y1="124.4" y2="124.4"/>
<line x1="576.5" x2="906.2" y1="243.5" y2="243.5"/>
<line x1="576.5" x2="906.2" y1="362.4" y2="362.4"/>
</g>
<g stroke="#c9a78b" stroke-width="1" fill="none">
<path d="M623.3 95.3v5.4"/>
<path d="M733.4 95.3v5.4"/>
<path d="M843.4 95.3v5.4"/>
<path d="M576.5 124.4h5.4"/>
<path d="M576.5 243.5h5.4"/>
<path d="M576.5 362.4h5.4"/>
</g>
<g clip-path="url(#ci)" fill="none" stroke-width="3.40"><g transform="translate(0 0.3)">
<path d="M568.20 219.00 L572.58 221.55 L576.95 224.09 L581.33 226.61 L585.71 229.12 L590.08 231.61 L594.46 234.09 L598.83 236.55 L603.21 239.00 L607.59 241.44 L611.96 243.86 L616.34 246.28 L620.71 248.67 L625.09 251.06 L629.47 253.44 L633.84 255.80 L638.22 258.15 L642.59 260.49 L646.97 262.82 L651.35 265.14 L655.72 267.45 L660.10 269.75 L664.47 272.04 L668.85 274.32 L673.23 276.59 L677.60 278.85 L681.98 281.10 L686.35 283.35 L690.73 285.58 L695.11 287.81 L699.48 290.03 L703.86 292.24 L708.23 294.44 L712.61 296.64 L716.99 298.82 L721.36 301.00 L725.74 303.18 L730.11 305.35 L734.49 307.51 L738.87 309.66 L743.24 311.81 L747.62 313.95 L752.00 316.09 L756.37 318.22 L760.75 320.34 L765.12 322.46 L769.50 324.57 L773.88 326.68 L778.25 328.79 L782.63 330.88 L787.00 332.98 L791.38 335.07 L795.76 337.15 L800.13 339.23 L804.51 341.31 L808.88 343.38 L813.26 345.45 L817.64 347.52 L822.01 349.58 L826.39 351.64 L830.76 353.69 L835.14 355.74 L839.52 357.79 L843.89 359.83 L848.27 361.88 L852.64 363.91 L857.02 365.95 L861.40 367.98 L865.77 370.02 L870.15 372.04 L874.52 374.07 L878.90 376.09 L883.28 378.12 L887.65 380.14 L892.03 382.15 L896.40 384.17 L900.78 386.18 L905.16 388.20 L909.53 390.21 L913.91 392.22" stroke="#808080" stroke-dasharray="16.6 5.81" stroke-dashoffset="-5.71"/>
<path d="M568.20 187.95 L572.58 190.85 L576.95 193.74 L581.33 196.60 L585.71 199.45 L590.08 202.28 L594.46 205.09 L598.83 207.89 L603.21 210.66 L607.59 213.43 L611.96 216.17 L616.34 218.90 L620.71 221.61 L625.09 224.31 L629.47 226.99 L633.84 229.66 L638.22 232.31 L642.59 234.95 L646.97 237.57 L651.35 240.19 L655.72 242.78 L660.10 245.37 L664.47 247.94 L668.85 250.50 L673.23 253.05 L677.60 255.59 L681.98 258.11 L686.35 260.62 L690.73 263.12 L695.11 265.62 L699.48 268.10 L703.86 270.57 L708.23 273.03 L712.61 275.48 L716.99 277.92 L721.36 280.35 L725.74 282.77 L730.11 285.18 L734.49 287.58 L738.87 289.98 L743.24 292.36 L747.62 294.74 L752.00 297.11 L756.37 299.47 L760.75 301.82 L765.12 304.17 L769.50 306.51 L773.88 308.84 L778.25 311.17 L782.63 313.48 L787.00 315.79 L791.38 318.10 L795.76 320.40 L800.13 322.69 L804.51 324.97 L808.88 327.25 L813.26 329.53 L817.64 331.80 L822.01 334.06 L826.39 336.32 L830.76 338.57 L835.14 340.82 L839.52 343.06 L843.89 345.30 L848.27 347.53 L852.64 349.76 L857.02 351.98 L861.40 354.20 L865.77 356.42 L870.15 358.63 L874.52 360.84 L878.90 363.04 L883.28 365.24 L887.65 367.44 L892.03 369.63 L896.40 371.82 L900.78 374.01 L905.16 376.19 L909.53 378.37 L913.91 380.55" stroke="#ff8080" stroke-dasharray="8 7.53" stroke-dashoffset="-14.43"/>
<path d="M568.20 154.79 L572.58 158.10 L576.95 161.39 L581.33 164.65 L585.71 167.89 L590.08 171.10 L594.46 174.30 L598.83 177.47 L603.21 180.62 L607.59 183.75 L611.96 186.86 L616.34 189.95 L620.71 193.02 L625.09 196.07 L629.47 199.10 L633.84 202.11 L638.22 205.10 L642.59 208.07 L646.97 211.03 L651.35 213.97 L655.72 216.89 L660.10 219.80 L664.47 222.69 L668.85 225.56 L673.23 228.42 L677.60 231.26 L681.98 234.08 L686.35 236.89 L690.73 239.69 L695.11 242.47 L699.48 245.24 L703.86 247.99 L708.23 250.73 L712.61 253.46 L716.99 256.17 L721.36 258.87 L725.74 261.56 L730.11 264.24 L734.49 266.90 L738.87 269.55 L743.24 272.19 L747.62 274.82 L752.00 277.44 L756.37 280.04 L760.75 282.64 L765.12 285.22 L769.50 287.80 L773.88 290.36 L778.25 292.92 L782.63 295.47 L787.00 298.00 L791.38 300.53 L795.76 303.05 L800.13 305.56 L804.51 308.06 L808.88 310.55 L813.26 313.03 L817.64 315.51 L822.01 317.98 L826.39 320.44 L830.76 322.89 L835.14 325.33 L839.52 327.77 L843.89 330.20 L848.27 332.63 L852.64 335.05 L857.02 337.46 L861.40 339.86 L865.77 342.26 L870.15 344.65 L874.52 347.04 L878.90 349.42 L883.28 351.80 L887.65 354.17 L892.03 356.53 L896.40 358.89 L900.78 361.25 L905.16 363.60 L909.53 365.94 L913.91 368.28" stroke="#000000"/>
<path d="M568.20 119.89 L572.58 123.54 L576.95 127.16 L581.33 130.76 L585.71 134.33 L590.08 137.87 L594.46 141.39 L598.83 144.88 L603.21 148.35 L607.59 151.80 L611.96 155.22 L616.34 158.62 L620.71 162.00 L625.09 165.36 L629.47 168.69 L633.84 172.01 L638.22 175.30 L642.59 178.57 L646.97 181.82 L651.35 185.06 L655.72 188.27 L660.10 191.46 L664.47 194.64 L668.85 197.80 L673.23 200.94 L677.60 204.06 L681.98 207.17 L686.35 210.26 L690.73 213.33 L695.11 216.38 L699.48 219.43 L703.86 222.45 L708.23 225.46 L712.61 228.45 L716.99 231.43 L721.36 234.40 L725.74 237.35 L730.11 240.29 L734.49 243.21 L738.87 246.12 L743.24 249.02 L747.62 251.91 L752.00 254.78 L756.37 257.64 L760.75 260.49 L765.12 263.32 L769.50 266.15 L773.88 268.96 L778.25 271.76 L782.63 274.55 L787.00 277.33 L791.38 280.10 L795.76 282.86 L800.13 285.61 L804.51 288.35 L808.88 291.08 L813.26 293.80 L817.64 296.51 L822.01 299.21 L826.39 301.91 L830.76 304.59 L835.14 307.27 L839.52 309.93 L843.89 312.59 L848.27 315.24 L852.64 317.89 L857.02 320.52 L861.40 323.15 L865.77 325.77 L870.15 328.38 L874.52 330.99 L878.90 333.58 L883.28 336.18 L887.65 338.76 L892.03 341.34 L896.40 343.91 L900.78 346.48 L905.16 349.04 L909.53 351.59 L913.91 354.14" stroke="#0a84ff" stroke-dasharray="2.5 7.205" stroke-dashoffset="-0.44"/>
<path d="M568.20 81.88 L572.58 85.93 L576.95 89.95 L581.33 93.94 L585.71 97.90 L590.08 101.83 L594.46 105.73 L598.83 109.61 L603.21 113.45 L607.59 117.27 L611.96 121.06 L616.34 124.83 L620.71 128.57 L625.09 132.28 L629.47 135.97 L633.84 139.63 L638.22 143.27 L642.59 146.89 L646.97 150.48 L651.35 154.05 L655.72 157.60 L660.10 161.13 L664.47 164.63 L668.85 168.11 L673.23 171.58 L677.60 175.02 L681.98 178.44 L686.35 181.84 L690.73 185.22 L695.11 188.58 L699.48 191.93 L703.86 195.25 L708.23 198.56 L712.61 201.85 L716.99 205.12 L721.36 208.38 L725.74 211.62 L730.11 214.84 L734.49 218.04 L738.87 221.23 L743.24 224.41 L747.62 227.57 L752.00 230.71 L756.37 233.84 L760.75 236.95 L765.12 240.05 L769.50 243.14 L773.88 246.21 L778.25 249.27 L782.63 252.32 L787.00 255.35 L791.38 258.37 L795.76 261.38 L800.13 264.37 L804.51 267.35 L808.88 270.33 L813.26 273.29 L817.64 276.23 L822.01 279.17 L826.39 282.10 L830.76 285.01 L835.14 287.92 L839.52 290.81 L843.89 293.70 L848.27 296.57 L852.64 299.44 L857.02 302.29 L861.40 305.14 L865.77 307.98 L870.15 310.80 L874.52 313.62 L878.90 316.43 L883.28 319.24 L887.65 322.03 L892.03 324.81 L896.40 327.59 L900.78 330.36 L905.16 333.12 L909.53 335.88 L913.91 338.63" stroke="#800080" stroke-dasharray="8.2 7.5 2 7.525" stroke-dashoffset="-2.90"/>
</g></g>
<line x1="576.5" x2="906.2" y1="273.45" y2="273.45" stroke="#2a2a2a" stroke-width="1.4"/>
<circle cx="666.8" cy="273.5" r="6.4" fill="#00ff00"/>
<circle cx="707.9" cy="273.5" r="6.4" fill="#00ff00"/>
<circle cx="745.7" cy="273.5" r="6.4" fill="#00ff00"/>
<circle cx="780.2" cy="273.5" r="6.4" fill="#00ff00"/>
<circle cx="812.7" cy="273.5" r="6.4" fill="#00ff00"/>
<g font-family="Liberation Serif, serif" font-size="28.9" fill="#996633">
<text x="623.5" y="81.6" text-anchor="middle" textLength="62.1" lengthAdjust="spacingAndGlyphs">15.28</text>
<text x="733.6" y="81.6" text-anchor="middle" textLength="62.1" lengthAdjust="spacingAndGlyphs">15.35</text>
<text x="843.6" y="81.6" text-anchor="middle" textLength="62.1" lengthAdjust="spacingAndGlyphs">15.42</text>
<text x="569.8" y="130.7" text-anchor="end" textLength="34.0" lengthAdjust="spacingAndGlyphs">0.1</text>
<text x="571.3" y="250.0" text-anchor="end" textLength="48.5" lengthAdjust="spacingAndGlyphs">0.02</text>
<text x="570.6" y="369.0" text-anchor="end" textLength="67.0" lengthAdjust="spacingAndGlyphs">&#8722;0.06</text>
</g>
</svg>
</body></html>
